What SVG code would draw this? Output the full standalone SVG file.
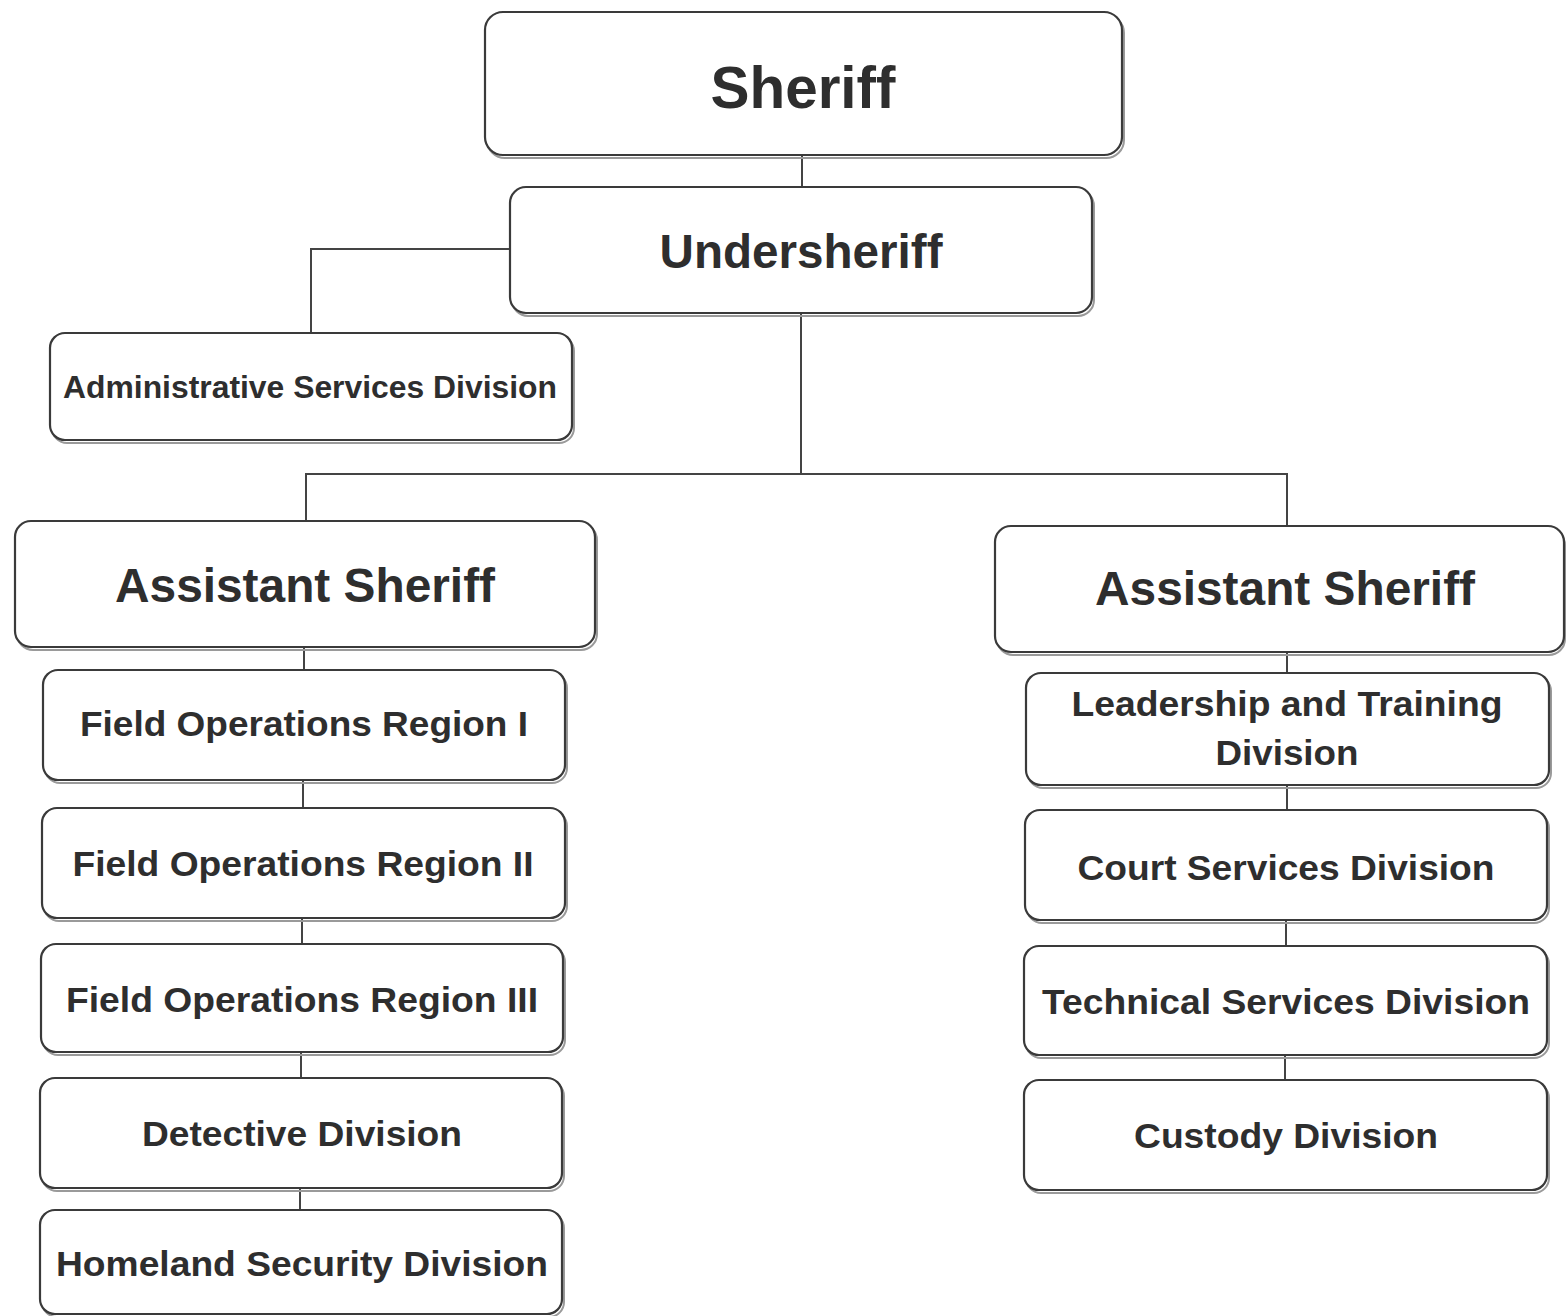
<svg xmlns="http://www.w3.org/2000/svg" width="1566" height="1316" viewBox="0 0 1566 1316">
<style>
.box{fill:#fff;stroke:#3a3a3a;stroke-width:2.2}
.sh{fill:none;stroke:#9a9a9a;stroke-width:2}
.t{font-family:"Liberation Sans",Arial,Helvetica,sans-serif;font-weight:bold;fill:#2e2e2e;text-anchor:middle}
.conn line, .conn polyline{stroke:#444;stroke-width:2;fill:none}
</style>
<rect width="1566" height="1316" fill="#fff"/>
<g class="conn" id="connectors">
<line x1="802" y1="155" x2="802" y2="187"/>
<polyline points="510,249 311,249 311,333"/>
<line x1="801" y1="313" x2="801" y2="474"/>
<polyline points="306,521 306,474 1287,474 1287,526"/>
<line x1="304" y1="647" x2="304" y2="670"/>
<line x1="303" y1="780" x2="303" y2="808"/>
<line x1="302" y1="918" x2="302" y2="944"/>
<line x1="301" y1="1052" x2="301" y2="1078"/>
<line x1="300" y1="1188" x2="300" y2="1210"/>
<line x1="1287" y1="652" x2="1287" y2="673"/>
<line x1="1287" y1="785" x2="1287" y2="810"/>
<line x1="1286" y1="920" x2="1286" y2="946"/>
<line x1="1285" y1="1055" x2="1285" y2="1080"/>
</g>
<g id="sheriff">
<rect class="sh" x="487" y="15" width="637" height="143" rx="18"/>
<rect class="box" x="485" y="12" width="637" height="143" rx="18"/>
<text class="t" x="803" y="108" font-size="60" textLength="185" lengthAdjust="spacingAndGlyphs">Sheriff</text>
</g>
<g id="undersheriff">
<rect class="sh" x="512" y="190" width="582" height="126" rx="16"/>
<rect class="box" x="510" y="187" width="582" height="126" rx="16"/>
<text class="t" x="801" y="268" font-size="48" textLength="283" lengthAdjust="spacingAndGlyphs">Undersheriff</text>
</g>
<g id="admin">
<rect class="sh" x="52" y="336" width="522" height="107" rx="15"/>
<rect class="box" x="50" y="333" width="522" height="107" rx="15"/>
<text class="t" x="310" y="398" font-size="31" textLength="494" lengthAdjust="spacingAndGlyphs">Administrative Services Division</text>
</g>
<g id="asst-left">
<rect class="sh" x="17" y="524" width="580" height="126" rx="16"/>
<rect class="box" x="15" y="521" width="580" height="126" rx="16"/>
<text class="t" x="305" y="602" font-size="48" textLength="380" lengthAdjust="spacingAndGlyphs">Assistant Sheriff</text>
</g>
<g id="asst-right">
<rect class="sh" x="997" y="529" width="568" height="126" rx="16"/>
<rect class="box" x="995" y="526" width="569" height="126" rx="16"/>
<text class="t" x="1285" y="605" font-size="48" textLength="380" lengthAdjust="spacingAndGlyphs">Assistant Sheriff</text>
</g>
<g id="for1">
<rect class="sh" x="45" y="673" width="522" height="110" rx="15"/>
<rect class="box" x="43" y="670" width="522" height="110" rx="15"/>
<text class="t" x="304" y="736" font-size="35" textLength="448" lengthAdjust="spacingAndGlyphs">Field Operations Region I</text>
</g>
<g id="for2">
<rect class="sh" x="44" y="811" width="523" height="110" rx="15"/>
<rect class="box" x="42" y="808" width="523" height="110" rx="15"/>
<text class="t" x="303" y="876" font-size="35" textLength="461" lengthAdjust="spacingAndGlyphs">Field Operations Region II</text>
</g>
<g id="for3">
<rect class="sh" x="43" y="947" width="522" height="108" rx="15"/>
<rect class="box" x="41" y="944" width="522" height="108" rx="15"/>
<text class="t" x="302" y="1012" font-size="35" textLength="472" lengthAdjust="spacingAndGlyphs">Field Operations Region III</text>
</g>
<g id="detective">
<rect class="sh" x="42" y="1081" width="522" height="110" rx="15"/>
<rect class="box" x="40" y="1078" width="522" height="110" rx="15"/>
<text class="t" x="302" y="1146" font-size="35" textLength="320" lengthAdjust="spacingAndGlyphs">Detective Division</text>
</g>
<g id="homeland">
<rect class="sh" x="42" y="1213" width="522" height="104" rx="15"/>
<rect class="box" x="40" y="1210" width="522" height="104" rx="15"/>
<text class="t" x="302" y="1276" font-size="35" textLength="492" lengthAdjust="spacingAndGlyphs">Homeland Security Division</text>
</g>
<g id="leadership">
<rect class="sh" x="1028" y="676" width="523" height="112" rx="15"/>
<rect class="box" x="1026" y="673" width="523" height="112" rx="15"/>
<text class="t" x="1287" y="716" font-size="35" textLength="431" lengthAdjust="spacingAndGlyphs">Leadership and Training</text>
<text class="t" x="1287" y="765" font-size="35" textLength="143" lengthAdjust="spacingAndGlyphs">Division</text>
</g>
<g id="court">
<rect class="sh" x="1027" y="813" width="522" height="110" rx="15"/>
<rect class="box" x="1025" y="810" width="522" height="110" rx="15"/>
<text class="t" x="1286" y="880" font-size="35" textLength="417" lengthAdjust="spacingAndGlyphs">Court Services Division</text>
</g>
<g id="technical">
<rect class="sh" x="1026" y="949" width="523" height="109" rx="15"/>
<rect class="box" x="1024" y="946" width="523" height="109" rx="15"/>
<text class="t" x="1286" y="1014" font-size="35" textLength="488" lengthAdjust="spacingAndGlyphs">Technical Services Division</text>
</g>
<g id="custody">
<rect class="sh" x="1026" y="1083" width="523" height="110" rx="15"/>
<rect class="box" x="1024" y="1080" width="523" height="110" rx="15"/>
<text class="t" x="1286" y="1148" font-size="35" textLength="304" lengthAdjust="spacingAndGlyphs">Custody Division</text>
</g>
</svg>
